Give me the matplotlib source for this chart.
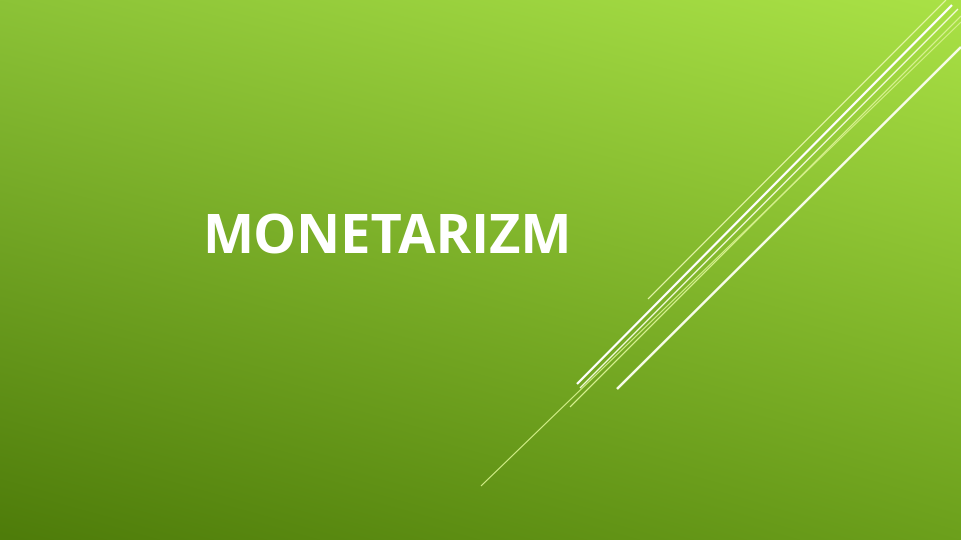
import numpy as np
import matplotlib
matplotlib.use("Agg")
import matplotlib.pyplot as plt

W, H = 961, 540

# slide title
title = "MONETARIZM"

# background gradient corners (RGB 0-255): top-left, top-right, bottom-left, bottom-right
corner_tl = [140, 195, 55]
corner_tr = [170, 226, 70]
corner_bl = [78, 124, 10]
corner_br = [108, 160, 28]

# decorative diagonal strokes, pixel coordinates (x0, x1), (y0, y1)
line_x = [[648, 946], [577, 952], [580, 958], [570, 961], [481, 961], [617, 961]]
line_y = [[299, 0], [384, 5], [388, 9], [407, 16], [486, 22], [389, 47]]
line_w = [0.9, 1.6, 1.0, 0.9, 0.8, 1.8]
line_c = ["#e4f5a8", "#ffffff", "#f2fbd8", "#d8f290", "#d4f08a", "#f8fdea"]


def gradient():
    yy, xx = np.mgrid[0:1:H * 1j, 0:1:W * 1j]
    tl, tr = np.array(corner_tl), np.array(corner_tr)
    bl, br = np.array(corner_bl), np.array(corner_br)
    top = tl[None, None, :] * (1 - xx[..., None]) + tr[None, None, :] * xx[..., None]
    bot = bl[None, None, :] * (1 - xx[..., None]) + br[None, None, :] * xx[..., None]
    img = top * (1 - yy[..., None]) + bot * yy[..., None]
    return img / 255.0


fig = plt.figure(figsize=(W / 100, H / 100), dpi=100)
ax = fig.add_axes([0, 0, 1, 1])
ax.imshow(gradient(), extent=(0, W, H, 0), aspect="auto", interpolation="bilinear")
for xs, ys, lw, c in zip(line_x, line_y, line_w, line_c):
    ax.plot(xs, ys, color=c, lw=lw, solid_capstyle="butt")

ax.text(202, 239, title, color="white", fontsize=39, fontweight="bold",
        family=["Open Sans", "DejaVu Sans"], ha="left", va="center")

ax.set_xlim(0, W)
ax.set_ylim(H, 0)
ax.axis("off")
fig.savefig("out.png", dpi=100)
